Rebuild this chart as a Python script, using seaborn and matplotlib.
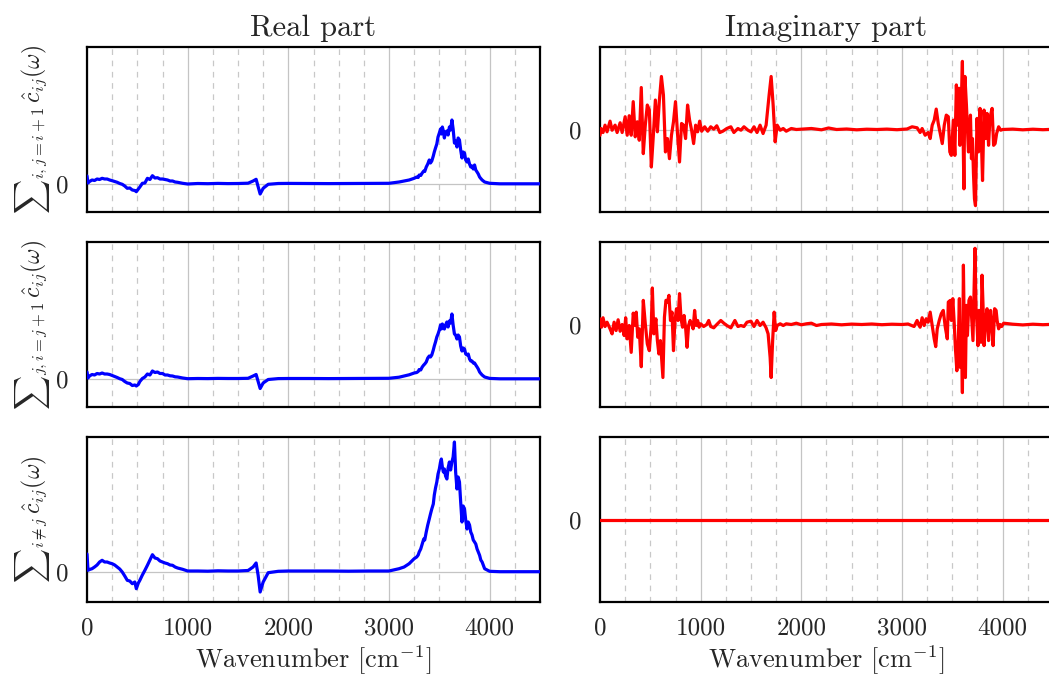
import numpy as np
import pandas as pd
import matplotlib
matplotlib.use("Agg")
import matplotlib.pyplot as plt
import seaborn as sns

# ---------------- data (arbitrary units) ----------------
wn_real = [0, 10, 25, 50, 75, 100, 125, 150, 175, 200,
           225, 250, 275, 300, 325, 350, 375, 400, 425, 450,
           475, 490, 510, 525, 550, 575, 600, 625, 650, 675,
           700, 725, 750, 775, 800, 825, 850, 875, 900, 950,
           1000,
           1100, 1200, 1300, 1400, 1500, 1600, 1650, 1680, 1700, 1720,
           1750, 1800, 1900, 2000, 2200, 2400, 2600, 2800, 3000, 3100,
           3150, 3200,
           3250, 3275, 3290, 3300, 3315, 3330, 3345, 3355, 3370, 3385,
           3400, 3412, 3425, 3440, 3450, 3462, 3475, 3487, 3500, 3512,
           3520, 3530, 3540, 3550, 3562, 3575, 3587, 3600, 3612, 3625,
           3637, 3650, 3662, 3675, 3687, 3700, 3712, 3725, 3737, 3750,
           3762, 3775, 3787, 3800, 3812, 3825, 3837, 3850, 3862, 3875,
           3887, 3900, 3912, 3925, 3950,
           4000, 4100, 4300, 4500]

real_ij = [8, 1, 2.5, 4, 3.5, 5, 4.5, 5.7, 5, 5,
           4, 3.3, 2.5, 1.7, 0.5, -0.3, -2, -4.3, -4, -6,
           -6.5, -7.7, -5, -3, 0.7, 1, 5.7, 4.5, 8.3, 6,
           6.3, 5, 5, 4.5, 4, 3, 3, 2, 1.7, 0.7,
           0,
           0.5, 0.3, 0.6, 0.4, 0.5, 0.8, 3, 4.7, -2.7, -10,
           -4.3, -0.3, 0.5, 0.6, 0.5, 0.4, 0.5, 0.6, 0.7, 2,
           3, 4,
           5.7, 7, 6.5, 9, 8.5, 11, 13, 12.5, 17, 20,
           24, 21, 23, 28, 32, 36, 40, 47, 51, 55,
           50, 57, 53, 46, 52, 53, 49, 57, 54, 64,
           55, 41, 43, 37, 46, 44, 34, 26, 32, 31,
           24, 22, 25, 20, 17, 18, 15, 19, 14, 12,
           10, 7, 5.5, 4, 2,
           0.7, 0.2, 0.2, 0.2]

real_ji = [7, 1, 3, 4.5, 4, 5.5, 5, 6, 5, 5,
           4.5, 3.5, 2.5, 1.5, 0.3, -0.5, -2.5, -4, -4.5, -6.5,
           -6, -7, -5.5, -2.5, 0.5, 2, 5, 4, 8, 6.5,
           7, 5.5, 5.5, 4, 4, 3.2, 3, 2.2, 2, 1,
           0.3,
           0.5, 0.4, 0.6, 0.5, 0.5, 0.7, 3, 4.5, -2.5, -9.5,
           -4, -0.5, 0.4, 0.5, 0.5, 0.4, 0.5, 0.6, 0.7, 1.8,
           3, 4.2,
           6, 6.5, 7.5, 9.5, 9, 12, 14, 15, 17, 21,
           23, 22, 24, 29, 33, 37, 42, 45, 49, 54,
           50, 55, 52, 50, 54, 57, 52, 58, 56, 65,
           54, 45, 44, 40, 44, 42, 33, 28, 31, 30,
           25, 24, 25, 20, 18, 18, 16, 16, 14, 12,
           10, 7, 5.5, 4, 2,
           0.6, 0.2, 0.2, 0.2]

real_all = [18, 1.7, 2.5, 3.3, 5, 7, 10, 11.7, 10, 10,
            9, 8.3, 7, 5, 3, 0, -4, -8.3, -9, -11.7,
            -10, -16.7, -11, -8.3, -3, 1.7, 6.7, 12, 17.3, 14,
            13.3, 11, 10, 9, 8.3, 7, 6.7, 5, 4, 2.7,
            1,
            1, 0.8, 1.2, 1, 1, 1.5, 5, 9, -3.3, -20,
            -10, -0.7, 0.7, 1, 1, 1, 0.8, 1, 1, 3.3,
            5, 8.3,
            13.3, 15, 17, 20, 23, 28, 33, 32, 40, 47,
            53, 58, 63, 68, 77, 84, 90, 98, 103, 110,
            113, 105, 100, 103, 96, 93, 104, 110, 102, 110,
            115, 130, 100, 83, 95, 90, 70, 50, 66, 63,
            52, 43, 50, 47, 40, 37, 32, 30, 28, 23,
            20, 16.7, 12, 10, 3.3,
            0.7, 0.3, 0.3, 0.3]

wn_imag_ij = [0, 10, 30, 50, 70, 100, 120, 150, 170, 200,
              220, 250, 270, 290, 310, 330, 350, 370, 390, 410,
              430, 450, 470, 490, 510, 530, 550, 570, 590, 610,
              630, 650, 670, 690, 710, 730, 750, 770, 790, 810,
              830, 850, 870, 890, 910, 930, 950, 970, 990, 1010,
              1040, 1070, 1100, 1130, 1160, 1190, 1220, 1260, 1300, 1330,
              1370, 1400, 1430, 1470, 1500, 1530, 1560, 1590, 1620, 1650,
              1680, 1700, 1720, 1740, 1760, 1790, 1820, 1850, 1900, 1950,
              2000, 2100, 2200, 2270, 2350, 2450, 2550, 2650, 2750, 2850,
              2950, 3050, 3100, 3150, 3180, 3200, 3230, 3260, 3280, 3300,
              3320, 3340, 3360, 3380, 3400, 3420, 3440, 3460, 3475, 3490,
              3510, 3525, 3540, 3555, 3565, 3575, 3590, 3600, 3607, 3615,
              3625, 3640, 3660, 3680, 3690, 3700, 3710, 3720, 3730, 3745,
              3760, 3775, 3790, 3800, 3815, 3830, 3845, 3860, 3870, 3880,
              3895, 3910, 3925, 3940, 3960, 3980, 4000, 4100, 4200, 4300,
              4400, 4500]

imag_ij = [-5.7, 1, -3, 4.3, -2.3, 8.3, -0.7, 4.3, -3, 6.7,
           -3, 12.7, -5.7, 13.7, -5.7, 27.7, -7.3, 7.7, -10.7, 41.7,
           -24, 4.3, 24.3, 19.3, -37.3, -5.7, 29.3, -2.3, 29.3, 52.7,
           34.3, -22.3, -9, -29, -5.7, 7.7, 27.7, -4, -32.3, 6,
           4.3, -9, 24.3, 9.3, -0.7, -14, 4.3, -2.3, 8.3, -1.7,
           2.7, -1.7, 2.7, 0.3, 3.7, -3, -1.7, 1, 2.7, -3,
           1, -0.7, 2.7, -0.7, -2.3, 2.7, -3, 4.3, -4, 4.3,
           34.3, 52.7, 24.3, -12.3, 4.3, -0.7, 1, -1.7, 1, 0,
           0.3, 1, -0.3, 1.5, 0, 0.5, -0.3, 0.3, 0, 0.4,
           -0.2, 0.5, 2.7, 1.7, -3, 1, -5.7, -3, -9, 4.3,
           9.3, 20.3, 6, -4, -14, 4.3, 14.3, 12.7, -22.3, -25.7,
           9.3, -25.7, 44.3, 4.3, 41, -15.7, 30, 67.7, -5.7, -59,
           52.7, 24.3, -22.3, 14.3, -29, -9, -44, -69, -75.7, 11,
           -22.3, 21, -15.7, -50.7, 19.3, -9, 16, -15.7, 4.3, 14.3,
           21, -15.7, -14, -4, 2.7, -0.7, 0, 0.4, -0.3, 0.3,
           -0.2, 0.2]

wn_imag_ji = [0, 15, 30, 50, 70, 100, 120, 140, 160, 180,
              200, 220, 240, 255, 270, 290, 310, 330, 350, 360,
              375, 390, 410, 430, 450, 470, 490, 510, 520, 535,
              555, 570, 585, 600, 610, 625, 640, 655, 670, 685,
              700, 715, 730, 745, 760, 775, 790, 805, 820, 835,
              850, 865, 880, 895, 910, 925, 940, 955, 970, 985,
              1000, 1030, 1060, 1080, 1100, 1130, 1160, 1200, 1230, 1260,
              1300, 1340, 1370, 1400, 1430, 1460, 1500, 1530, 1560, 1590,
              1620, 1650, 1670, 1690, 1700, 1715, 1730, 1745, 1760, 1790,
              1820, 1850, 1900, 1950, 2000, 2050, 2100, 2150, 2200, 2300,
              2400, 2500, 2600, 2700, 2800, 2900, 3000, 3060, 3120, 3150,
              3165, 3180, 3200, 3220, 3240, 3260, 3280, 3300, 3320, 3335,
              3350, 3370, 3390, 3410, 3430, 3450, 3460, 3480, 3490, 3505,
              3520, 3530, 3545, 3560, 3570, 3580, 3590, 3600, 3610, 3620,
              3630, 3640, 3650, 3665, 3680, 3695, 3705, 3715, 3725, 3735,
              3745, 3755, 3765, 3775, 3785, 3795, 3805, 3815, 3830, 3845,
              3860, 3870, 3880, 3895, 3905, 3920, 3935, 3945, 3960, 3975,
              3990, 4010, 4100, 4200, 4300, 4400, 4500]

imag_ji = [5.7, -2.7, 6.7, -2, 2.3, -4.3, -9.3, 2.3, -6, 4.7,
           -6.7, 0, -11, 6.7, -14.3, -1, -27.7, 11.3, -1, 12.3,
           -12.7, -4.3, -42, 24, 0.7, -19.3, -26, 0.7, 36.3, -9.3,
           5.7, -16, -29.3, -16, -31, -52.7, 7.3, 24, 22.3, 29,
           4, 12.3, -26, 4, 15.7, 4, 30.7, 5.7, -2.7, 9,
           -2.7, -22.7, -1, 4, 0.7, -4.3, 14, -1, 4, -2.7,
           0.7, -2, 0, 4, -2, -3.3, 0, 4, 1.3, -1,
           -3.3, 4, -2, -1, -2, 2.3, 3.3, -2, 4, -1,
           2.3, -3.3, -9.3, -32.7, -52.7, -16, 12.3, -6, -1, 0.7,
           -1, 0.7, 0, 1.3, -0.3, 0.7, 1.3, -1, 0, 0.5,
           -0.3, 0.4, 0, 0.5, -0.2, 0.3, 0, 0.5, -2, 4,
           0, -2.7, 6.7, -1, 5.7, 2.3, 12.3, -1, -14.3, -22,
           -4.3, 4, 10.7, 14, -2.7, -14.3, 22.3, 24, 4, 25.7,
           -1, -22.7, -46, -14.3, 25.7, -42.7, -9.3, -67.7, 59, -19.3,
           -52.7, 19, -11, 24, 27.3, 2.3, -16, 29, 75.7, 17.3,
           0, -21, 14, -9.3, -17.7, 49, 19, -21, 4, 15.7,
           -16, 0, 14, -4.3, -21, 15.7, 14, 4, -4.3, 0,
           -2, 1.3, 0.3, -0.4, 0.3, -0.2, 0.2]

wn_imag_all = [0, 4500]
imag_all = [0, 0]

row_labels = [r"${\sum}_{i,j=i+1}\,\hat{c}_{ij}(\omega)$",
              r"${\sum}_{j,i=j+1}\,\hat{c}_{ij}(\omega)$",
              r"${\sum}_{i\neq j}\,\hat{c}_{ij}(\omega)$"]
col_titles = ["Real part", "Imaginary part"]
xtick_vals = [0, 1000, 2000, 3000, 4000]
xlabel = r"Wavenumber [cm$^{-1}$]"

# ---------------- style ----------------
sns.set_theme(style="white")
plt.rcParams.update({
    "font.family": "serif",
    "font.serif": ["cmr10"],
    "mathtext.fontset": "cm",
    "axes.formatter.use_mathtext": True,
    "axes.unicode_minus": False,
})

W, H = 1049, 682
fig = plt.figure(figsize=(W / 100, H / 100), dpi=100)

ax_w = 453 / W
ax_h = 165 / H
lefts = [87 / W, 600 / W]
bottoms = [(H - 212) / H, (H - 407) / H, (H - 602) / H]

real_series = [real_ij, real_ji, real_all]
imag_series = [(wn_imag_ij, imag_ij), (wn_imag_ji, imag_ji), (wn_imag_all, imag_all)]
real_ylims = [(-28, 137), (-28, 137), (-30, 135)]

for r in range(3):
    for c in range(2):
        ax = fig.add_axes([lefts[c], bottoms[r], ax_w, ax_h])
        if c == 0:
            df = pd.DataFrame({"wn": wn_real, "val": real_series[r]})
            color = "#0000ff"
            ax.set_ylim(*real_ylims[r])
        else:
            xs, ys = imag_series[r]
            df = pd.DataFrame({"wn": xs, "val": ys})
            color = "#ff0000"
            ax.set_ylim(-82, 82)
        sns.lineplot(data=df, x="wn", y="val", ax=ax, color=color,
                     linewidth=2.3, estimator=None, sort=False, zorder=3)
        ax.set_xlim(0, 4500)
        ax.set_xticks(xtick_vals)
        ax.set_xticks(np.arange(250, 4500, 250), minor=True)
        ax.set_yticks([0])
        ax.set_yticklabels(["0"])
        ax.grid(which="major", axis="both", color="#c4c4c4", linewidth=0.9, linestyle="-")
        ax.grid(which="minor", axis="x", color="#c8c8c8", linewidth=0.9,
                linestyle=(0, (4.5, 4.5)))
        ax.set_axisbelow(True)
        ax.tick_params(which="both", length=0)
        ax.tick_params(axis="y", pad=13, labelsize=18)
        ax.tick_params(axis="x", pad=11, labelsize=18)
        for sp in ax.spines.values():
            sp.set_color("black")
            sp.set_linewidth(1.6)
            sp.set_visible(True)
        if r < 2:
            ax.set_xticklabels([])
            ax.set_xlabel("")
        else:
            ax.set_xticklabels([str(v) for v in xtick_vals])
            ax.set_xlabel(xlabel, fontsize=19, labelpad=3)
        if c == 0:
            ax.set_ylabel(row_labels[r], fontsize=17, labelpad=3)
        else:
            ax.set_ylabel("")
        if r == 0:
            ax.set_title(col_titles[c], fontsize=22, pad=8)

fig.savefig("out.png", dpi=100)
